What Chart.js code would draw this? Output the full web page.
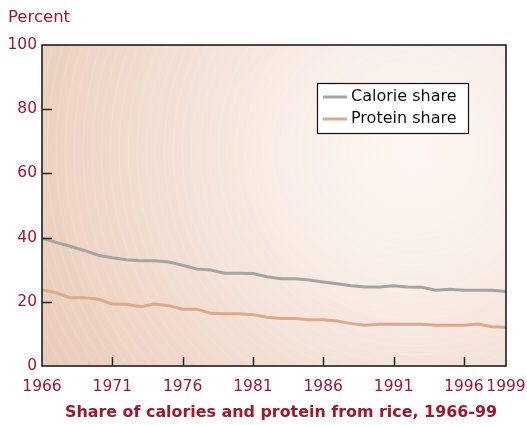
<!DOCTYPE html>
<html lang="en">
<head>
    <meta charset="UTF-8">
    <title>Share of calories and protein from rice</title>
    <script src="https://cdn.jsdelivr.net/npm/chart.js"></script>
    <style>
        body { margin: 0; background: #fff; }
        #wrap { width: 527px; height: 425px; }
    </style>
</head>
<body>
<div id="wrap"><canvas id="riceChart" width="527" height="425"></canvas></div>

<script>
    const years = [1966, 1967, 1968, 1969, 1970, 1971, 1972, 1973, 1974, 1975, 1976, 1977,
        1978, 1979, 1980, 1981, 1982, 1983, 1984, 1985, 1986, 1987, 1988, 1989,
        1990, 1991, 1992, 1993, 1994, 1995, 1996, 1997, 1998, 1999];
    const calorieShare = [39.8, 38.5, 37.3, 36.0, 34.5, 33.7, 33.1, 32.8, 32.8, 32.4, 31.4, 30.2,
        29.9, 28.9, 28.9, 28.8, 27.8, 27.2, 27.2, 26.8, 26.2, 25.6, 25.0, 24.6,
        24.6, 25.0, 24.6, 24.5, 23.6, 23.9, 23.6, 23.6, 23.6, 23.2];
    const proteinShare = [23.7, 22.8, 21.3, 21.3, 20.8, 19.3, 19.2, 18.5, 19.3, 18.8, 17.7, 17.7,
        16.4, 16.3, 16.3, 16.0, 15.2, 14.8, 14.8, 14.4, 14.4, 14.0, 13.2, 12.7,
        13.0, 13.0, 13.0, 13.0, 12.7, 12.7, 12.7, 13.1, 12.2, 12.1];
    const xTickYears = [1966, 1971, 1976, 1981, 1986, 1991, 1996, 1999];
    const yTicks = [0, 20, 40, 60, 80, 100];

    const red = '#9a1a2e';
    const font = 'DejaVu Sans';

    const toPoints = vals => vals.map((v, i) => ({x: years[i], y: v}));

    // background, rings, frame, inside ticks, legend and titles
    const decor = {
        id: 'decor',
        beforeDraw(chart) {
            const {ctx, chartArea: a} = chart;
            const cx = a.left + (a.right - a.left) * 0.8, cy = a.top + (a.bottom - a.top) * 0.33;
            const g = ctx.createRadialGradient(cx, cy, 0, cx, cy, 470);
            g.addColorStop(0, '#fcf6f2');
            g.addColorStop(0.25, '#f9efe9');
            g.addColorStop(1, '#e8c6b2');
            ctx.save();
            ctx.fillStyle = g;
            ctx.fillRect(a.left, a.top, a.right - a.left, a.bottom - a.top);
            ctx.beginPath();
            ctx.rect(a.left, a.top, a.right - a.left, a.bottom - a.top);
            ctx.clip();
            ctx.strokeStyle = 'rgba(255,255,255,0.18)';
            ctx.lineWidth = 0.7;
            for (let r = 60; r < 520; r += 9) {
                ctx.beginPath();
                ctx.arc(cx, cy, r, 0, Math.PI * 2);
                ctx.stroke();
            }
            ctx.restore();
        },
        afterDraw(chart) {
            const {ctx, chartArea: a} = chart;
            const xs = chart.scales.x, ys = chart.scales.y;
            ctx.save();
            ctx.strokeStyle = '#111';
            ctx.lineWidth = 1.5;
            ctx.strokeRect(a.left, a.top, a.right - a.left, a.bottom - a.top);
            ctx.strokeStyle = '#222';
            [20, 40, 60, 80].forEach(v => {
                const y = Math.round(ys.getPixelForValue(v)) + 0.5;
                ctx.beginPath(); ctx.moveTo(a.left, y); ctx.lineTo(a.left + 10, y); ctx.stroke();
            });
            xTickYears.slice(1, -1).forEach(v => {
                const x = Math.round(xs.getPixelForValue(v)) + 0.5;
                ctx.beginPath(); ctx.moveTo(x, a.bottom); ctx.lineTo(x, a.bottom - 9); ctx.stroke();
            });

            // legend box
            const lx = 317, ly = 83, lw = 151, lh = 50;
            ctx.fillStyle = '#fff';
            ctx.fillRect(lx, ly, lw, lh);
            ctx.strokeStyle = '#111';
            ctx.lineWidth = 1.2;
            ctx.strokeRect(lx + 0.5, ly + 0.5, lw, lh);
            ctx.font = '16px "' + font + '"';
            ctx.textBaseline = 'middle';
            chart.data.datasets.forEach((ds, i) => {
                const y = ly + 14 + i * 22;
                ctx.strokeStyle = ds.borderColor;
                ctx.lineWidth = 3;
                ctx.beginPath(); ctx.moveTo(lx + 6, y); ctx.lineTo(lx + 30, y); ctx.stroke();
                ctx.fillStyle = '#111';
                ctx.fillText(ds.label, lx + 34, y);
            });

            // texts
            ctx.fillStyle = red;
            ctx.textBaseline = 'middle';
            ctx.font = '16.5px "' + font + '"';
            ctx.textAlign = 'left';
            ctx.fillText('Percent', 8, 18);
            ctx.font = 'bold 15.9px "' + font + '"';
            ctx.textAlign = 'center';
            ctx.fillText('Share of calories and protein from rice, 1966-99', 281, 413);
            ctx.restore();
        }
    };

    new Chart(document.getElementById('riceChart'), {
        type: 'line',
        data: {
            datasets: [{
                label: 'Calorie share',
                data: toPoints(calorieShare),
                borderColor: '#a4a4a4',
                borderWidth: 3,
                pointRadius: 0,
                tension: 0
            }, {
                label: 'Protein share',
                data: toPoints(proteinShare),
                borderColor: '#dca98b',
                borderWidth: 3,
                pointRadius: 0,
                tension: 0
            }]
        },
        options: {
            responsive: false,
            animation: false,
            layout: {padding: {top: 45, right: 21, bottom: 0, left: 0}},
            plugins: {legend: {display: false}, tooltip: {enabled: false}},
            scales: {
                x: {
                    type: 'linear',
                    min: 1966,
                    max: 1999,
                    afterBuildTicks: s => { s.ticks = xTickYears.map(v => ({value: v})); },
                    afterFit: s => { s.height = 59; s.paddingLeft = 0; s.paddingRight = 0; },
                    grid: {display: false, drawTicks: false},
                    border: {display: false},
                    ticks: {
                        autoSkip: false,
                        maxRotation: 0,
                        padding: 12,
                        color: red,
                        font: {family: font, size: 15.5},
                        callback: v => String(v)
                    }
                },
                y: {
                    min: 0,
                    max: 100,
                    afterBuildTicks: s => { s.ticks = yTicks.map(v => ({value: v})); },
                    afterFit: s => { s.width = 42; },
                    grid: {display: false, drawTicks: false},
                    border: {display: false},
                    ticks: {
                        padding: 5,
                        color: red,
                        font: {family: font, size: 15.5}
                    }
                }
            }
        },
        plugins: [decor]
    });
</script>
</body>
</html>
